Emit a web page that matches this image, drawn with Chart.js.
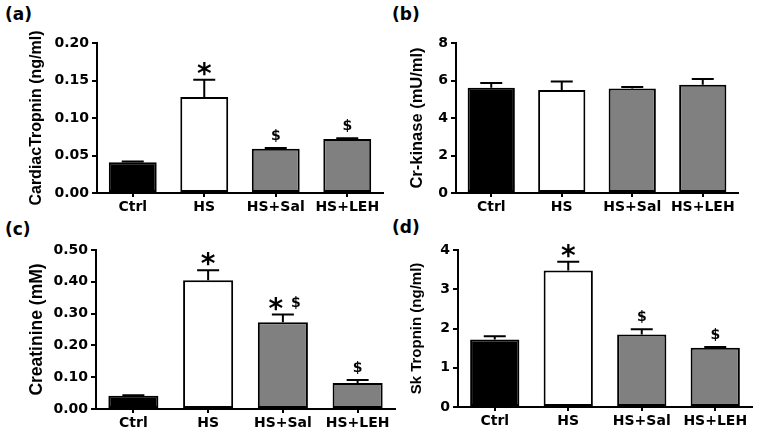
<!DOCTYPE html>
<html lang="en">
<head>
    <meta charset="UTF-8">
    <title>Serum markers</title>
    <script src="https://cdn.jsdelivr.net/npm/chart.js"></script>
    <style>
        body { margin: 0; background: #fff; width: 758px; height: 434px; position: relative; overflow: hidden; }
        canvas { position: absolute; }
        .tag { position: absolute; font: bold 17px "DejaVu Sans"; line-height: 17px; color: #000; }
    </style>
</head>
<body>
    <div class="tag" style="left:5px;top:6px">(a)</div>
    <div class="tag" style="left:392px;top:6px">(b)</div>
    <div class="tag" style="left:5px;top:221px">(c)</div>
    <div class="tag" style="left:392px;top:219px">(d)</div>
    <canvas id="chartA" width="390" height="217" style="left:0;top:0"></canvas>
    <canvas id="chartB" width="378" height="217" style="left:380px;top:0"></canvas>
    <canvas id="chartC" width="400" height="217" style="left:0;top:217px"></canvas>
    <canvas id="chartD" width="378" height="217" style="left:380px;top:217px"></canvas>

    <script>
        const groups = ["Ctrl", "HS", "HS+Sal", "HS+LEH"];
        const barColors = ["#000000", "#ffffff", "#808080", "#808080"];

        // (a) cardiac troponin, ng/ml
        const cardiacMean = [0.041, 0.128, 0.059, 0.072];
        const cardiacSem = [0.001, 0.023, 0.001, 0.001];
        const cardiacMarks = ["", "*", "$", "$"];

        // (b) creatine kinase, mU/ml
        const ckMean = [5.62, 5.50, 5.57, 5.78];
        const ckSem = [0.25, 0.45, 0.08, 0.30];
        const ckMarks = ["", "", "", ""];

        // (c) creatinine, mM
        const creatMean = [0.042, 0.405, 0.273, 0.082];
        const creatSem = [0.001, 0.031, 0.024, 0.009];
        const creatMarks = ["", "*", "*$", "$"];

        // (d) skeletal troponin, ng/ml
        const skMean = [1.72, 3.48, 1.85, 1.51];
        const skSem = [0.08, 0.22, 0.13, 0.02];
        const skMarks = ["", "*", "$", "$"];

        const FONT = "DejaVu Sans";
        const TITLE_FONT = "Liberation Sans";

        // error bars (upper half only) + significance marks
        const errorMarks = {
            id: "errorMarks",
            afterDatasetsDraw(chart, args, opts) {
                const ctx = chart.ctx;
                const y = chart.scales.y;
                const vals = chart.data.datasets[0].data;
                ctx.save();
                ctx.strokeStyle = "#000";
                ctx.fillStyle = "#000";
                ctx.lineWidth = 2;
                ctx.textAlign = "center";
                ctx.textBaseline = "alphabetic";
                chart.getDatasetMeta(0).data.forEach((bar, i) => {
                    const top = y.getPixelForValue(vals[i] + opts.sem[i]);
                    ctx.beginPath();
                    ctx.moveTo(bar.x, bar.y);
                    ctx.lineTo(bar.x, top);
                    ctx.moveTo(bar.x - 11, top);
                    ctx.lineTo(bar.x + 11, top);
                    ctx.stroke();

                    const m = opts.marks[i];
                    const both = m.length > 1;
                    if (m.includes("*")) {
                        ctx.font = "bold 28px " + FONT;
                        ctx.fillText("*", bar.x + (both ? -7 : 0), top + 3);
                    }
                    if (m.includes("$")) {
                        ctx.font = "bold 14px " + FONT;
                        ctx.fillText("$", bar.x + (both ? 13 : 0), top - 8);
                    }
                });
                ctx.restore();
            }
        };

        function makePanel(id, values, sem, marks, yMax, yStep, decimals, title, box) {
            const ctx = document.getElementById(id).getContext("2d");
            return new Chart(ctx, {
                type: "bar",
                data: {
                    labels: groups,
                    datasets: [{
                        data: values,
                        backgroundColor: barColors,
                        borderColor: "#000",
                        borderWidth: 2,
                        borderSkipped: false,
                        barPercentage: 0.67,
                        categoryPercentage: 1.0
                    }]
                },
                options: {
                    responsive: false,
                    animation: false,
                    layout: { padding: { top: box.top, right: box.right, bottom: 0, left: 0 } },
                    plugins: {
                        legend: { display: false },
                        tooltip: { enabled: false },
                        errorMarks: { sem: sem, marks: marks }
                    },
                    scales: {
                        x: {
                            grid: { drawOnChartArea: false, offset: false, color: "#000", lineWidth: 2, tickLength: 4 },
                            border: { color: "#000", width: 2 },
                            ticks: { color: "#000", font: { family: FONT, weight: "bold", size: 14 }, padding: 2 },
                            afterFit: s => { s.height = box.xh; }
                        },
                        y: {
                            min: 0,
                            max: yMax,
                            grid: { drawOnChartArea: false, color: "#000", lineWidth: 2, tickLength: 5 },
                            border: { color: "#000", width: 2 },
                            ticks: {
                                stepSize: yStep,
                                color: "#000",
                                padding: 3,
                                font: { family: FONT, weight: "bold", size: 14 },
                                callback: v => v.toFixed(decimals)
                            },
                            title: {
                                display: true,
                                text: title,
                                color: "#000",
                                font: { family: TITLE_FONT, weight: "bold", size: box.ts },
                                padding: { top: 37 - 0.6 * box.ts, bottom: 0 }
                            },
                            afterFit: s => { s.width = box.left; }
                        }
                    }
                },
                plugins: [errorMarks]
            });
        }

        makePanel("chartA", cardiacMean, cardiacSem, cardiacMarks, 0.20, 0.05, 2,
            "CardiacTropnin (ng/ml)", { left: 97, right: 7, top: 43, xh: 24, ts: 16 });
        makePanel("chartB", ckMean, ckSem, ckMarks, 8, 2, 0,
            "Cr-kinase (mU/ml)", { left: 76, right: 20, top: 43, xh: 24, ts: 16.5 });
        makePanel("chartC", creatMean, creatSem, creatMarks, 0.50, 0.10, 2,
            "Creatinine (mM)", { left: 96, right: 5, top: 33, xh: 25, ts: 17.5 });
        makePanel("chartD", skMean, skSem, skMarks, 4, 1, 0,
            "Sk Tropnin (ng/ml)", { left: 78, right: 6, top: 33, xh: 27, ts: 15 });
    </script>
</body>
</html>
